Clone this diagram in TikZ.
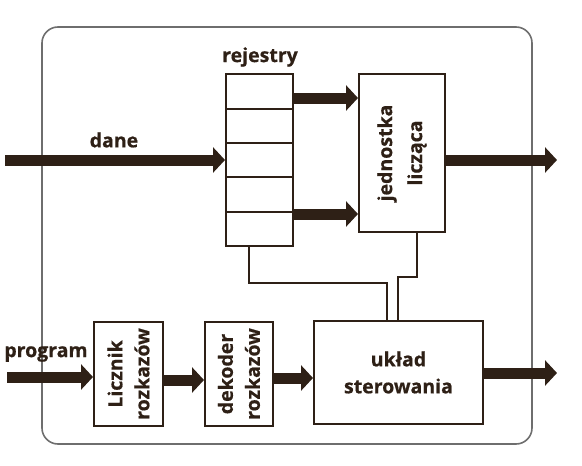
\documentclass[tikz,border=0pt]{standalone}
\usepackage{fontspec}
\setmainfont{Open Sans}[BoldFeatures={FakeBold=0.6}]
\usepackage{xcolor}
\usepackage{tikz}
\usetikzlibrary{arrows.meta,calc}
\definecolor{ink}{HTML}{2E2016}
\definecolor{framegray}{HTML}{6E6E6E}

\begin{document}
\begin{tikzpicture}[
  x=1pt,y=-1pt,
  every node/.style={font=\fontsize{19.5}{27}\selectfont\bfseries,text=ink},
  box/.style={draw=ink,line width=2pt,inner sep=0pt},
  arr/.style={-{Triangle[length=12pt,width=25pt]},line width=11pt,draw=ink},
  wire/.style={draw=ink,line width=1.2pt}
]
\useasboundingbox (0,0) rectangle (582,466);
\draw[framegray,line width=1.6pt,rounded corners=16pt] (42,27) rectangle (532,444);

% rejestry
\node[box,minimum width=67pt,minimum height=172pt] (regs) at (259.5,160) {};
\foreach \y in {109,143,177,212}
  \draw[ink,line width=1.2pt] (regs.west |- 0,\y) -- (regs.east |- 0,\y);
\node (regslbl) at (260,57) {rejestry};

% jednostka liczaca
\node[box,minimum width=86pt,minimum height=158pt] (alu) at (402,153) {};
\node[rotate=90,align=center,font=\fontsize{19.5}{30}\selectfont\bfseries] (alutxt) at (alu) {jednostka\\licząca};

% dolny rzad
\node[box,minimum width=69pt,minimum height=104pt] (counter) at (128.5,374) {};
\node[rotate=90,align=center] (countertxt) at (counter) {Licznik\\rozkazów};
\node[box,minimum width=68pt,minimum height=104pt] (decoder) at (239,374) {};
\node[rotate=90,align=center] (decodertxt) at (decoder) {dekoder\\rozkazów};
\node[box,minimum width=169pt,minimum height=103pt,align=center] (control) at (398.5,372.5) {układ\\sterowania};

% wejscia i wyjscia
\coordinate (datain) at (5,160);
\coordinate (aluout) at (557,160);
\coordinate (progin) at (7,377);
\coordinate (ctrlout) at (557,373);
\node (danelbl) at (114,140) {dane};
\node (proglbl) at (46,354) {program};

\draw[arr] (datain) -- (regs.west |- datain);
\draw[arr] (regs.east |- 0,98) -- (alu.west |- 0,98);
\draw[arr] (regs.east |- 0,214) -- (alu.west |- 0,214);
\draw[arr] (alu.east |- aluout) -- (aluout);
\draw[arr] (progin) -- (counter.west |- progin);
\draw[arr] (counter.east |- 0,380) -- (decoder.west |- 0,380);
\draw[arr] (decoder.east |- 0,378) -- (control.west |- 0,378);
\draw[arr] (control.east |- ctrlout) -- (ctrlout);

% linie sterujace
\coordinate (j1) at (387,283);
\coordinate (j2) at (398,277);
\draw[wire] ([xshift=-10.5pt]regs.south) |- (j1) -- (j1 |- control.north);
\draw[wire] ([xshift=15pt]alu.south) |- (j2) -- (j2 |- control.north);
\end{tikzpicture}
\end{document}
